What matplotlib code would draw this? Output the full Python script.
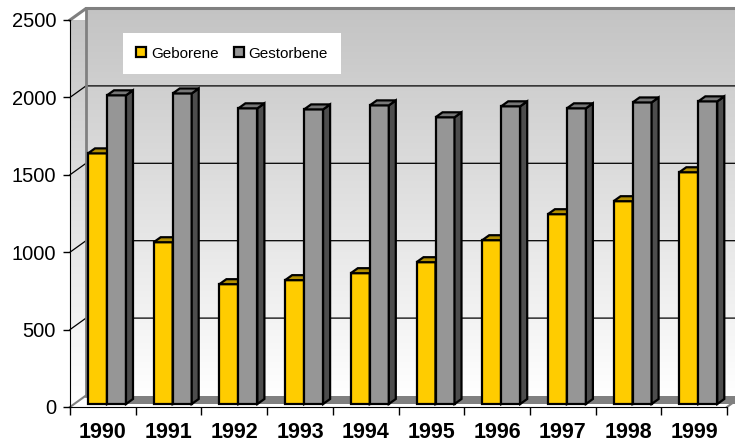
"""Geborene und Gestorbene 1990-1999 als 3D-Saeulendiagramm."""

import matplotlib

matplotlib.use("Agg")
import matplotlib.pyplot as plt
import numpy as np
from matplotlib.patches import Patch, Polygon

years = ["1990", "1991", "1992", "1993", "1994", "1995", "1996", "1997", "1998", "1999"]
geborene = [1619, 1045, 774, 800, 845, 916, 1058, 1226, 1310, 1497]
gestorbene = [1994, 2006, 1910, 1903, 1929, 1852, 1923, 1910, 1948, 1955]
series_names = ["Geborene", "Gestorbene"]
y_ticks = [0, 500, 1000, 1500, 2000, 2500]

YELLOW, YELLOW_TOP, YELLOW_SIDE = "#FFCC00", "#B38F00", "#806600"
GRAY, GRAY_TOP, GRAY_SIDE = "#969696", "#777777", "#4D4D4D"

plt.rcParams["font.family"] = ["Liberation Sans", "DejaVu Sans"]

fig = plt.figure(figsize=(7.35, 4.43), dpi=100)
W, H = 735, 443
ax = fig.add_axes([70 / W, 36 / H, 657 / W, 387 / H])

n = len(years)
ymax = 2500
# oblique projection offsets (in data units)
px_x = 657 / n
px_y = 387 / ymax
wall_dx, wall_dy = 16 / px_x, 11.5 / px_y
bar_dx, bar_dy = 7 / px_x, 5 / px_y
base = 3 / px_y
bar_w = 19 / px_x
offsets = [18 / px_x, 37 / px_x]

# walls with gradient
grad = np.linspace(0, 1, 256)
top_col = np.array([0.765, 0.765, 0.765])
img = top_col[None, :] * (1 - grad[:, None]) + grad[:, None]
img = img[:, None, :]
ax.imshow(img, extent=[wall_dx, n + wall_dx, wall_dy, ymax + wall_dy],
          aspect="auto", zorder=0, clip_on=False, interpolation="bilinear")
side = Polygon([(0, 0), (wall_dx, wall_dy), (wall_dx, ymax + wall_dy), (0, ymax)],
               closed=True, facecolor="none", edgecolor="none", transform=ax.transData)
ax.add_patch(side)
im2 = ax.imshow(img, extent=[0, wall_dx, 0, ymax + wall_dy],
                aspect="auto", zorder=0, clip_on=True, interpolation="bilinear")
im2.set_clip_path(side)

# gridlines on back and side wall
for v in y_ticks[1:-1]:
    ax.plot([0, wall_dx, n + wall_dx], [v, v + wall_dy, v + wall_dy],
            color="black", lw=0.9, zorder=1, clip_on=False)
ax.plot([0, wall_dx, n + wall_dx], [ymax, ymax + wall_dy, ymax + wall_dy],
        color="#808080", lw=2.2, zorder=1, clip_on=False)
ax.plot([wall_dx, wall_dx], [wall_dy, ymax + wall_dy], color="#808080", lw=2, zorder=1,
        clip_on=False)
ax.plot([0, wall_dx], [0, wall_dy], color="#808080", lw=1.5, zorder=1, clip_on=False)
ax.plot([n, n + wall_dx], [0, wall_dy], color="#808080", lw=1.5, zorder=1, clip_on=False)

# floor band behind the bars
f = base / wall_dy
x0 = offsets[0]
floor = Polygon([(x0, base), (n + wall_dx, base), (n + wall_dx, wall_dy),
                 (x0 + (1 - f) * wall_dx, wall_dy)],
                closed=True, facecolor="#808080", edgecolor="none", zorder=1.5,
                clip_on=False)
ax.add_patch(floor)

# bars
colors = [(YELLOW, YELLOW_TOP, YELLOW_SIDE), (GRAY, GRAY_TOP, GRAY_SIDE)]
for i in range(n):
    for s, vals in enumerate([geborene, gestorbene]):
        front, topc, sidec = colors[s]
        z = 3 + i * 2 + s
        left = i + offsets[s]
        top = base + vals[i]
        ax.bar(left, vals[i], width=bar_w, bottom=base, align="edge", color=front,
               edgecolor="black", linewidth=1.6, zorder=z)
        right = left + bar_w
        ax.add_patch(Polygon([(right, base), (right + bar_dx, base + bar_dy),
                              (right + bar_dx, top + bar_dy), (right, top)],
                             closed=True, facecolor=sidec, edgecolor="black",
                             linewidth=1.6, zorder=z, clip_on=False))
        ax.add_patch(Polygon([(left, top), (left + bar_dx, top + bar_dy),
                              (right + bar_dx, top + bar_dy), (right, top)],
                             closed=True, facecolor=topc, edgecolor="black",
                             linewidth=1.6, zorder=z, clip_on=False))

ax.set_xlim(0, n)
ax.set_ylim(0, ymax)
ax.set_facecolor("none")
for sp in ["top", "right"]:
    ax.spines[sp].set_visible(False)
ax.spines["left"].set_color("black")
ax.spines["bottom"].set_color("black")
ax.spines["left"].set_zorder(30)
ax.spines["bottom"].set_zorder(30)

ax.set_yticks(y_ticks)
ax.set_yticklabels([str(v) for v in y_ticks], fontsize=14.5)
ax.tick_params(axis="y", direction="out", length=5, width=1, pad=5)

ax.set_xticks(range(n + 1))
ax.set_xticklabels([])
ax.tick_params(axis="x", direction="out", length=6, width=1)
ax.set_xticks(np.arange(n) + 0.5, minor=True)
ax.set_xticklabels(years, minor=True, fontsize=15.5, fontweight="bold")
ax.tick_params(axis="x", which="minor", length=0, pad=11)

handles = [Patch(facecolor=YELLOW, edgecolor="black", linewidth=1.6),
           Patch(facecolor=GRAY, edgecolor="black", linewidth=1.6)]
leg = fig.legend(handles, series_names, loc="center", ncol=2,
                 bbox_to_anchor=(232 / W, 1 - 53.5 / H), bbox_transform=fig.transFigure,
                 fontsize=11, frameon=True, fancybox=False, facecolor="white",
                 edgecolor="none", framealpha=1, handlelength=0.65, handleheight=0.65,
                 handletextpad=0.3, columnspacing=1.0, borderpad=0.9)
leg.set_zorder(40)

fig.savefig("out.png", dpi=100)
